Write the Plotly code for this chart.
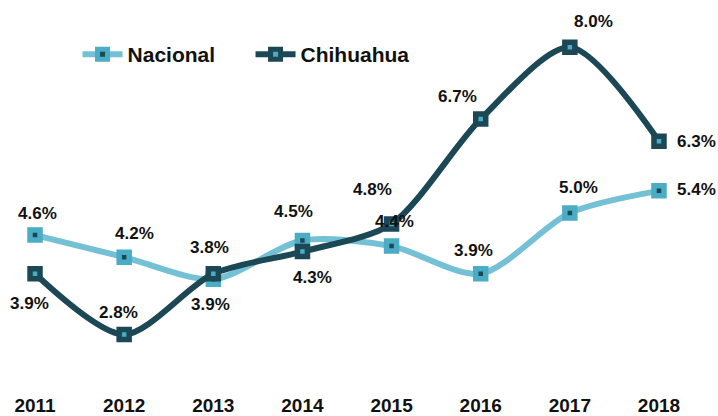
import plotly.graph_objects as go

years = ["2011", "2012", "2013", "2014", "2015", "2016", "2017", "2018"]
nacional = [4.6, 4.2, 3.8, 4.5, 4.4, 3.9, 5.0, 5.4]
chihuahua = [3.9, 2.8, 3.9, 4.3, 4.8, 6.7, 8.0, 6.3]

# label offsets (px) relative to each point
nac_dx = [2, 10, -4, -9, 3, -7, 9, 38]
nac_dy = [22, 24, 32, 29, 25, 23, 25, 1]
chi_dx = [-6, -6, -3, 10, -19, -23, 24, 38]
chi_dy = [-30, 22, -31, -26, 35, 23, 26, 0]

C_NAC_LINE = "#74C0D5"
C_NAC_MARK = "#4BACC6"
C_CHI = "#1C4856"
FONT = "Liberation Sans, Arial, sans-serif"

fig = go.Figure()
fig.add_trace(go.Scatter(
    x=years, y=nacional, name="Nacional", mode="lines+markers",
    line=dict(color=C_NAC_LINE, width=6, shape="spline", smoothing=0.8),
    marker=dict(symbol="square", size=10, color=C_CHI,
                line=dict(color=C_NAC_MARK, width=5.5)),
))
fig.add_trace(go.Scatter(
    x=years, y=chihuahua, name="Chihuahua", mode="lines+markers",
    line=dict(color=C_CHI, width=6, shape="spline", smoothing=0.8),
    marker=dict(symbol="square", size=10, color=C_NAC_MARK,
                line=dict(color=C_CHI, width=5.5)),
))

for series, dxs, dys in ((nacional, nac_dx, nac_dy), (chihuahua, chi_dx, chi_dy)):
    for i, (v, dx, dy) in enumerate(zip(series, dxs, dys)):
        fig.add_annotation(
            x=i, y=v, xref="x", yref="y", text=f"{v:.1f}%", showarrow=False,
            xshift=dx, yshift=dy, xanchor="center", yanchor="middle",
            font=dict(family=FONT, size=17, color="#111111", weight="bold"),
        )

fig.update_layout(
    width=718, height=416,
    margin=dict(l=0, r=0, t=0, b=24),
    paper_bgcolor="white", plot_bgcolor="white",
    showlegend=True,
    legend=dict(
        orientation="h", x=0.108, y=0.86, xanchor="left", yanchor="middle",
        font=dict(family=FONT, size=21, color="#111111", weight="bold"),
        entrywidth=118, entrywidthmode="pixels",
        bgcolor="rgba(0,0,0,0)", itemwidth=40,
    ),
    xaxis=dict(
        type="category", range=[-0.393, 7.662],
        showgrid=False, zeroline=False, showline=False, ticks="",
        ticklabelstandoff=2,
        tickfont=dict(family=FONT, size=19, color="#111111", weight="bold"),
    ),
    yaxis=dict(
        range=[1.795, 8.855], showticklabels=False, showgrid=False,
        zeroline=False, showline=False, ticks="",
    ),
)

fig.write_html("out.html", config={"displayModeBar": False},
               post_script="document.body.style.margin='0px';")
